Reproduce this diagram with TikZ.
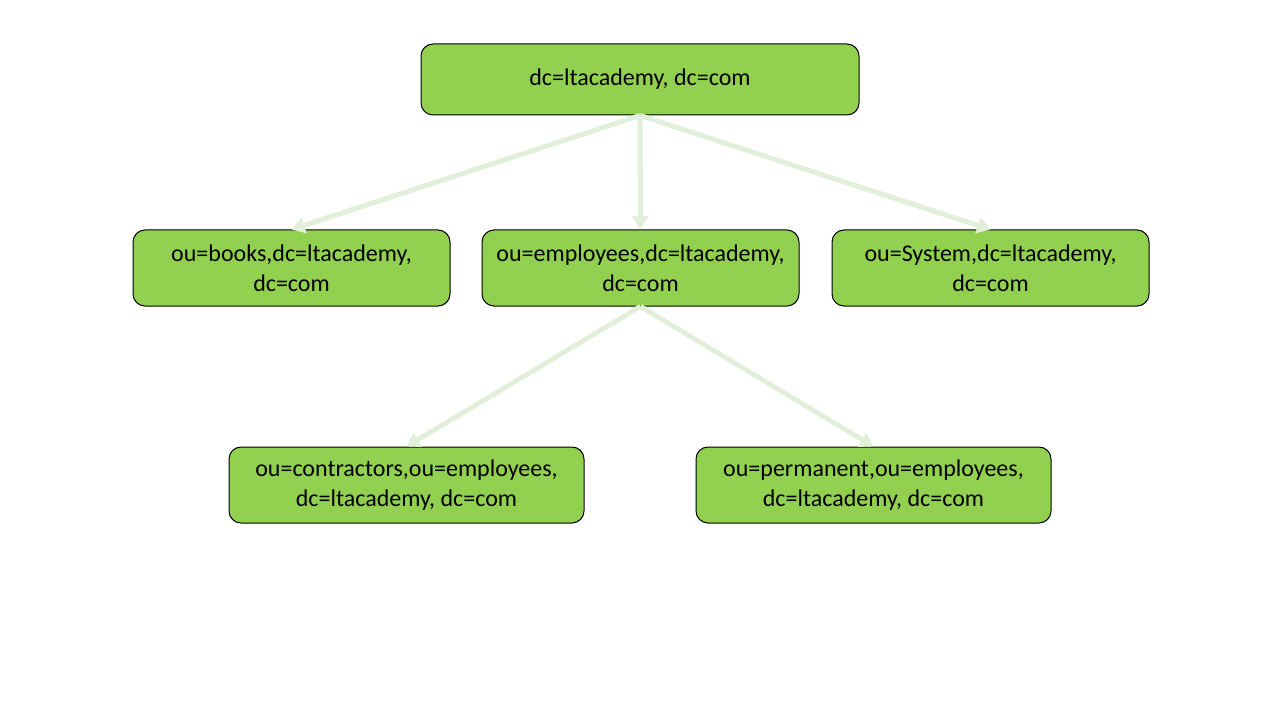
\documentclass[tikz,border=0pt]{standalone}
\usepackage{fontspec}
\setmainfont{Carlito}
\usetikzlibrary{arrows.meta}
\definecolor{boxgreen}{RGB}{146,208,80}
\definecolor{arrowgreen}{RGB}{226,239,218}
\begin{document}
\begin{tikzpicture}[x=0.75pt,y=-0.75pt,
  box/.style={draw=black,line width=0.75pt,fill=boxgreen,rounded corners=9pt,
    align=center,font=\fontsize{18}{22.5}\selectfont,inner sep=0pt},
  conn/.style={draw=arrowgreen,line width=3.8pt,
    -{Triangle[length=10pt,width=12pt]}}]
\useasboundingbox (0,0) rectangle (1280,720);
\node[box,minimum width=438*0.75pt,minimum height=71*0.75pt] (root) at (640,79.5) {dc=ltacademy, dc=com};
\node[box,minimum width=317*0.75pt,minimum height=76*0.75pt] (books) at (291.5,268) {ou=books,dc=ltacademy,\\dc=com};
\node[box,minimum width=317*0.75pt,minimum height=76*0.75pt] (emp) at (640.5,268) {ou=employees,dc=ltacademy,\\dc=com};
\node[box,minimum width=317*0.75pt,minimum height=76*0.75pt] (sys) at (990.5,268) {ou=System,dc=ltacademy,\\dc=com};
\node[box,minimum width=355*0.75pt,minimum height=76*0.75pt] (contr) at (406.5,485) {ou=contractors,ou=employees,\\dc=ltacademy, dc=com};
\node[box,minimum width=355*0.75pt,minimum height=76*0.75pt] (perm) at (873.5,485) {ou=permanent,ou=employees,\\dc=ltacademy, dc=com};
\draw[conn] (root.south) -- (books.north);
\draw[conn] (root.south) -- (emp.north);
\draw[conn] (root.south) -- (sys.north);
\draw[conn] (emp.south) -- (contr.north);
\draw[conn] (emp.south) -- (perm.north);
\end{tikzpicture}
\end{document}
